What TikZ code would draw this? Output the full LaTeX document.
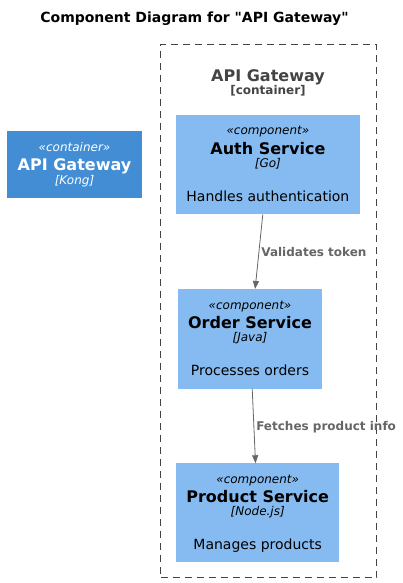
\documentclass[tikz,border=0pt]{standalone}
\usepackage{fontspec}
\setmainfont{DejaVu Sans}
\usepackage{tikz}
\usetikzlibrary{arrows.meta}

\definecolor{containerblue}{HTML}{438DD5}
\definecolor{compblue}{HTML}{85BBF0}
\definecolor{boundgrey}{HTML}{444444}
\definecolor{relgrey}{HTML}{666666}

\newcommand{\fsz}[1]{\fontsize{#1}{#1}\selectfont}

\tikzset{
  contbox/.style={rectangle, fill=containerblue, inner sep=0pt, outer sep=0pt},
  compbox/.style={rectangle, fill=compblue, inner sep=0pt, outer sep=0pt},
  boundbox/.style={rectangle, draw=boundgrey, line width=0.9pt, dash pattern=on 7pt off 5pt, inner sep=0pt, outer sep=0pt},
  txt/.style={anchor=base, inner sep=0pt},
  stereo/.style={txt, font=\fsz{12}\itshape},
  elname/.style={txt, font=\fsz{16}\bfseries},
  techtxt/.style={txt, font=\fsz{12}\itshape},
  desctxt/.style={txt, font=\fsz{14}},
  rel/.style={draw=relgrey, line width=0.8pt, -{Triangle[length=8pt, width=6pt]}},
  rellbl/.style={anchor=west, inner sep=2pt, text height=10pt, text depth=0pt, text=relgrey, font=\fsz{12}\bfseries}
}

\begin{document}
\begin{tikzpicture}[x=1pt,y=1pt,yscale=-1,xscale=1]
    \useasboundingbox (0,0) rectangle (402,583);

    % Title
    \draw (194.5,23) node [txt, font=\fsz{14}\bfseries] (title) {Component Diagram for \textquotedbl API Gateway\textquotedbl};

    % Boundary
    \node [boundbox, minimum width=216pt, minimum height=533.4pt] (gateway) at (268.7,311) {};
    \draw (268,82) node [elname, text=boundgrey] (gwname) {API Gateway};
    \draw (268,95) node [txt, font=\fsz{12}\bfseries, text=boundgrey] (gwkind) {[container]};

    % Container (outside)
    \node [contbox, minimum width=134.4pt, minimum height=66.7pt] (kong) at (74.5,164.3) {};
    \draw (74.5,151) node [stereo, text=white] (kongst) {«container»};
    \draw (74.5,170) node [elname, text=white] (kongname) {API Gateway};
    \draw (74.5,184) node [techtxt, text=white] (kongtech) {[Kong]};

    % Auth Service
    \node [compbox, minimum width=183.7pt, minimum height=99.3pt] (auth) at (267.9,164.7) {};
    \draw (267.9,135) node [stereo] (authst) {«component»};
    \draw (267.9,154.5) node [elname] (authname) {Auth Service};
    \draw (267.9,167.5) node [techtxt] (authtech) {[Go]};
    \draw (267.9,201.5) node [desctxt] (authdesc) {Handles authentication};

    % Order Service
    \node [compbox, minimum width=144pt, minimum height=99.7pt] (order) at (250,338.8) {};
    \draw (250,309) node [stereo] (orderst) {«component»};
    \draw (250,328.5) node [elname] (ordername) {Order Service};
    \draw (250,341.5) node [techtxt] (ordertech) {[Java]};
    \draw (250,375.5) node [desctxt] (orderdesc) {Processes orders};

    % Product Service
    \node [compbox, minimum width=163.3pt, minimum height=99pt] (product) at (257.7,512.8) {};
    \draw (257.7,483) node [stereo] (prodst) {«component»};
    \draw (257.7,502.5) node [elname] (prodname) {Product Service};
    \draw (257.7,515.5) node [techtxt] (prodtech) {[Node.js]};
    \draw (257.7,549.5) node [desctxt] (proddesc) {Manages products};

    % Relations
    \draw [rel] (auth) -- (order) node [rellbl, midway] (rel1) {Validates token};
    \draw [rel] (order) -- (product) node [rellbl, midway] (rel2) {Fetches product info};
\end{tikzpicture}
\end{document}
